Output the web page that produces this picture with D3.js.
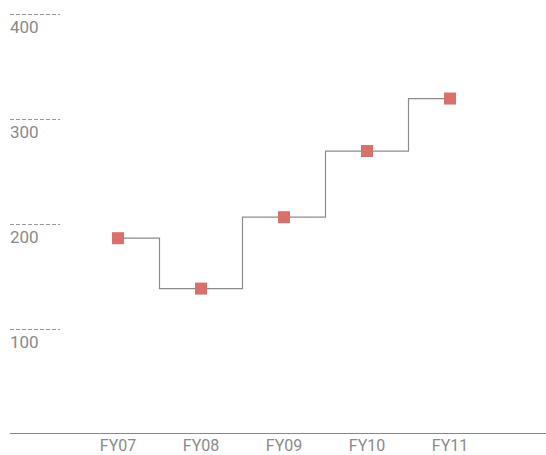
<!DOCTYPE html>
<html>
<head>
<meta charset="utf-8">
<script src="https://cdn.jsdelivr.net/npm/d3@7"></script>
<style>
    body { margin: 0; background: #fff; }
    svg { display: block; }
    .tick-text { font-family: Roboto, sans-serif; font-size: 17px; fill: #8a8a8a; }
</style>
</head>
<body>
<div id="chart"></div>
<script>
const years = ["FY07", "FY08", "FY09", "FY10", "FY11"];
const values = [186, 138, 206, 269, 319];
const yTicks = [100, 200, 300, 400];

const width = 546;
const height = 455;

const x = d3.scalePoint()
    .domain(years)
    .range([35, 533])
    .padding(1);

const y = d3.scaleLinear()
    .domain([0, 400])
    .range([433.5, 13.5]);

const svg = d3.select("#chart").append("svg")
    .attr("width", width)
    .attr("height", height);

// dashed grid stubs + labels under them
const grid = svg.append("g");
grid.selectAll("line")
    .data(yTicks)
    .join("line")
    .attr("x1", 10)
    .attr("x2", 60)
    .attr("y1", d => Math.round(y(d)) + 0.5)
    .attr("y2", d => Math.round(y(d)) + 0.5)
    .attr("stroke", "#999")
    .attr("stroke-width", 1)
    .attr("stroke-dasharray", "4,2");

grid.selectAll("text")
    .data(yTicks)
    .join("text")
    .attr("class", "tick-text")
    .attr("x", 10)
    .attr("y", d => y(d) + 19)
    .text(d => d);

// baseline
svg.append("line")
    .attr("x1", 10)
    .attr("x2", width)
    .attr("y1", y(0))
    .attr("y2", y(0))
    .attr("stroke", "#888")
    .attr("stroke-width", 1.2);

svg.append("g")
    .selectAll("text")
    .data(years)
    .join("text")
    .attr("class", "tick-text")
    .style("font-size", "16px")
    .attr("x", d => x(d))
    .attr("y", 451)
    .attr("text-anchor", "middle")
    .text(d => d);

const data = years.map((d, i) => ({year: d, value: values[i]}));

const line = d3.line()
    .x(d => x(d.year))
    .y(d => y(d.value))
    .curve(d3.curveStep);

svg.append("path")
    .datum(data)
    .attr("d", line)
    .attr("fill", "none")
    .attr("stroke", "#8c8c8c")
    .attr("stroke-width", 1.2);

const size = 12;
svg.append("g")
    .attr("fill", "#d9706a")
    .selectAll("rect")
    .data(data)
    .join("rect")
    .attr("x", d => x(d.year) - size / 2)
    .attr("y", d => y(d.value) - size / 2)
    .attr("width", size)
    .attr("height", size);
</script>
</body>
</html>
